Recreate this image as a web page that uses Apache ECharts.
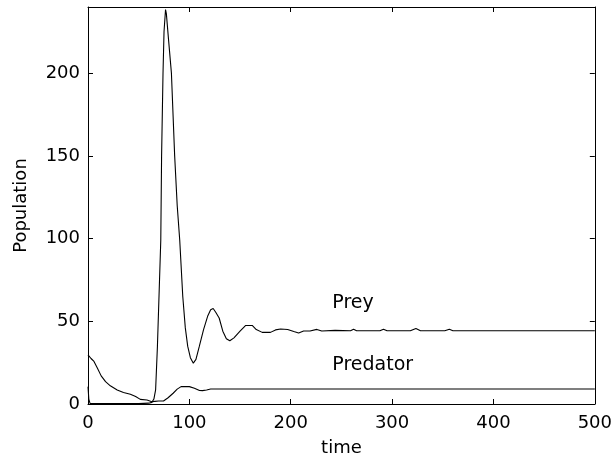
<!DOCTYPE html>
<html>
<head>
<meta charset="utf-8">
<script src="https://cdn.jsdelivr.net/npm/echarts@6/dist/echarts.min.js"></script>
<style>
  html, body { margin: 0; padding: 0; background: #fff; }
  #chart { width: 615px; height: 466px; }
</style>
</head>
<body>
<div id="chart"></div>
<script>
// values
const preyTime = [0, 0.8, 2, 20, 50, 60, 63, 65, 66.7, 68.5, 70.2, 71.8, 72.6, 74, 75, 76.5, 77.3, 79.5, 82.3, 85.5, 88, 90.5, 93.5, 96, 98.4, 101, 103.9, 106.5, 109.8, 114, 118, 121, 123.5, 126, 129.4, 133, 136.5, 139.9, 144, 150, 155.6, 162, 166, 171.9, 180, 185, 190, 197, 203, 207.8, 212.7, 219, 225.8, 230.6, 243.8, 259, 262, 265, 288, 291.5, 295, 318, 323.5, 328, 352, 356.5, 360, 500];
const preyValues = [10.5, 3, 0.4, 0.2, 0.2, 0.5, 1, 3, 8.5, 35, 68, 99, 150, 200, 225, 238.5, 236, 220, 200, 150, 120, 99, 65, 46, 34.8, 28, 24.7, 27, 34.8, 45, 53, 57, 57.7, 55.5, 52, 44, 39.5, 38.2, 40, 44, 47.5, 47.5, 45, 43.3, 43.3, 44.8, 45.3, 45, 43.8, 42.9, 44.1, 44.1, 45.1, 44.1, 44.5, 44.3, 45.2, 44.3, 44.3, 45.2, 44.3, 44.3, 45.6, 44.3, 44.3, 45.2, 44.3, 44.3];

const predatorTime = [0, 3, 5.9, 9.2, 13, 17.3, 22, 28.8, 35, 41.8, 47, 51.6, 58.2, 63, 66, 69.6, 74.5, 79, 84, 88, 91.8, 100, 105, 110, 113, 117, 121, 500];
const predatorValues = [29.7, 27.5, 25.7, 21.7, 17, 13.5, 11, 8.5, 7, 5.9, 4.5, 2.8, 2.4, 1.4, 1.6, 1.8, 1.8, 3.8, 6.5, 9, 10.5, 10.5, 9.5, 8.2, 8.1, 8.5, 9.1, 9.1];

const xTicks = [0, 100, 200, 300, 400, 500];
const yTicks = [0, 50, 100, 150, 200];
const labelTexts = [['Prey', 241, 61], ['Predator', 241, 23.5]];

const font = 'DejaVu Sans';
const black = '#000';

const chart = echarts.init(document.getElementById('chart'));

const axisCommon = {
    axisLine: { show: true, onZero: false, lineStyle: { color: black, width: 1 } },
    axisTick: { show: true, inside: true, length: 5, lineStyle: { color: black } },
    splitLine: { show: false }
};

chart.setOption({
    animation: false,
    backgroundColor: '#fff',
    grid: { left: 88, right: 18, top: 7, bottom: 62 },
    xAxis: [
        Object.assign({}, axisCommon, {
            type: 'value', min: 0, max: 500, interval: 100,
            name: 'time', nameLocation: 'middle', nameGap: 35,
            nameTextStyle: { color: black, fontSize: 18, fontFamily: font },
            axisLabel: { color: black, fontSize: 18, fontFamily: font, margin: 10 }
        }),
        Object.assign({}, axisCommon, {
            type: 'value', min: 0, max: 500, interval: 100, position: 'top',
            axisLabel: { show: false }
        })
    ],
    yAxis: [
        Object.assign({}, axisCommon, {
            type: 'value', min: 0, max: 240, interval: 50,
            name: 'Population', nameLocation: 'middle', nameGap: 58,
            nameTextStyle: { color: black, fontSize: 18, fontFamily: font },
            axisLabel: { color: black, fontSize: 18, fontFamily: font, margin: 8, showMaxLabel: false,
                formatter: v => (yTicks.indexOf(v) >= 0 ? String(v) : '') }
        }),
        Object.assign({}, axisCommon, {
            type: 'value', min: 0, max: 240, interval: 50, position: 'right',
            axisLabel: { show: false }
        })
    ],
    series: [
        {
            name: 'Prey', type: 'line', showSymbol: false,
            lineStyle: { color: black, width: 1.1 },
            data: preyTime.map((t, i) => [t, preyValues[i]])
        },
        {
            name: 'Predator', type: 'line', showSymbol: false,
            lineStyle: { color: black, width: 1.1 },
            data: predatorTime.map((t, i) => [t, predatorValues[i]])
        }
    ]
});

// text annotations placed at data coordinates
chart.setOption({
    graphic: labelTexts.map(([text, t, v]) => {
        const p = chart.convertToPixel({ xAxisIndex: 0, yAxisIndex: 0 }, [t, v]);
        return {
            type: 'text', x: p[0], y: p[1],
            style: { text: text, fill: black, font: '19px "' + font + '"', textAlign: 'left', textVerticalAlign: 'middle' }
        };
    })
});
</script>
</body>
</html>
